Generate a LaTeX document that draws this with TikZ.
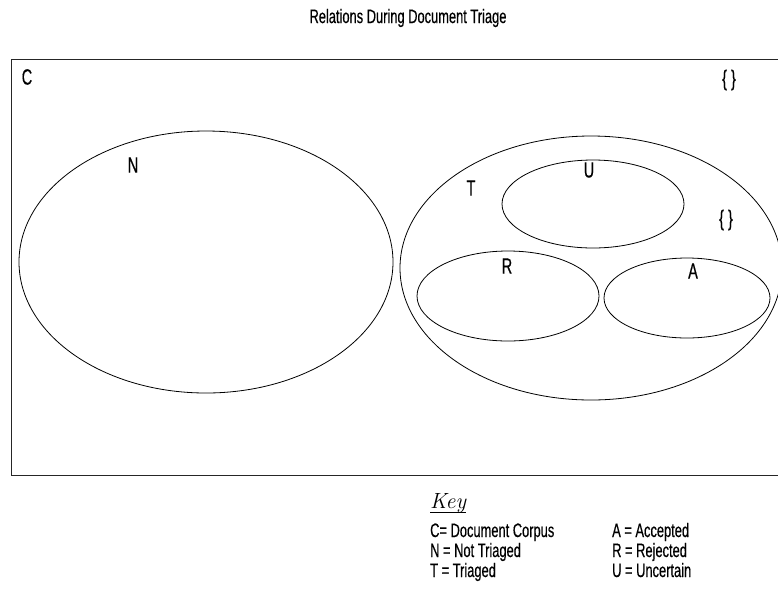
\documentclass[tikz,border=0pt]{standalone}
\usepackage{fontspec}
\setmainfont{Liberation Sans}[FakeStretch=0.66,FakeBold=0.4]
\newfontfamily\keyfont{Latin Modern Roman}
\begin{document}
\begin{tikzpicture}[x=1pt,y=-1pt,
  set/.style={draw=black,line width=0.8pt},
  lbl/.style={inner sep=0pt,font=\fontsize{22}{26}\selectfont},
  keytxt/.style={inner sep=0pt,anchor=base west,font=\fontsize{19.5}{23}\selectfont}]
\useasboundingbox (0,0) rectangle (778,590);
\clip (0,0) rectangle (778,590);
\node[inner sep=0pt,font=\fontsize{19.5}{23}\selectfont] (title) at (408,18) {Relations During Document Triage};
\node[draw=black!85,line width=1.3pt,minimum width=800pt,minimum height=416pt,anchor=north west,inner sep=0pt] (corpus) at (11,59) {};
\node[lbl] (cl) at (27,77) {C};
\node[lbl] (e1) at (729,80) {\{ \}};
\draw[set] (206,262) ellipse [x radius=187,y radius=131];
\node[lbl] (nl) at (133,165) {N};
\draw[set] (591,268) ellipse [x radius=191,y radius=132];
\node[lbl] (tl) at (471,188) {T};
\draw[set] (593,204) ellipse [x radius=91,y radius=44];
\node[lbl] (ul) at (589,170) {U};
\node[lbl] (e2) at (726,220) {\{ \}};
\draw[set] (508,296) ellipse [x radius=91,y radius=45];
\node[lbl] (rl) at (507,266) {R};
\draw[set] (687,298) ellipse [x radius=83,y radius=40];
\node[lbl] (al) at (693,271) {A};
\node[inner sep=0pt,anchor=base west,font=\keyfont\itshape\fontsize{22}{26}\selectfont] (key) at (430,508) {Key};
\draw[line width=0.6pt] (key.south west) coordinate (k1) -- (k1 -| key.south east);
\node[keytxt] (k_c) at (430,537) {C= Document Corpus};
\node[keytxt] (k_n) at (430,557) {N = Not Triaged};
\node[keytxt] (k_t) at (430,577) {T = Triaged};
\node[keytxt] (k_a) at (612,537) {A = Accepted};
\node[keytxt] (k_r) at (612,557) {R = Rejected};
\node[keytxt] (k_u) at (612,577) {U = Uncertain};
\end{tikzpicture}
\end{document}
